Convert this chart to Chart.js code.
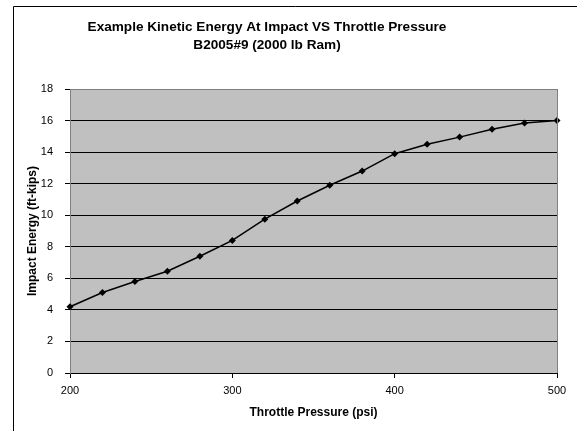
<!DOCTYPE html>
<html>
<head>
<meta charset="utf-8">
<title>Kinetic Energy vs Throttle Pressure</title>
<script src="https://cdn.jsdelivr.net/npm/chart.js@4/dist/chart.umd.min.js"></script>
<style>
    html, body { margin: 0; padding: 0; background: #ffffff; }
    #wrap { width: 577px; height: 431px; }
</style>
</head>
<body>
<div id="wrap"><canvas id="energy-chart" width="577" height="431"></canvas></div>
<script>
// Chart data
const titleLines = ['Example Kinetic Energy At Impact VS Throttle Pressure', 'B2005#9 (2000 lb Ram)'];
const throttlePressure = [200, 220, 240, 260, 280, 300, 320, 340, 360, 380, 400, 420, 440, 460, 480, 500];
const impactEnergy = [4.2, 5.1, 5.8, 6.45, 7.4, 8.4, 9.75, 10.9, 11.9, 12.8, 13.9, 14.5, 14.95, 15.45, 15.85, 16.0];
const xTitle = 'Throttle Pressure (psi)';
const yTitle = 'Impact Energy (ft-kips)';

const FONT = '"Liberation Sans", Arial, sans-serif';

/**
 * Frame, plot background and title (drawn behind the data)
 */
const backdropPlugin = {
    id: 'backdrop',
    beforeDraw(chart) {
        const { ctx, chartArea } = chart;
        ctx.save();

        // Outer frame (top and left edges visible)
        ctx.strokeStyle = '#000000';
        ctx.lineWidth = 1;
        ctx.beginPath();
        ctx.moveTo(13.5, 431);
        ctx.lineTo(13.5, 6.5);
        ctx.lineTo(577, 6.5);
        ctx.stroke();

        // Plot area fill
        ctx.fillStyle = '#C0C0C0';
        ctx.fillRect(chartArea.left, chartArea.top, chartArea.right - chartArea.left, chartArea.bottom - chartArea.top);

        // Titles
        ctx.fillStyle = '#000000';
        ctx.font = 'bold 13.6px ' + FONT;
        ctx.textAlign = 'center';
        ctx.textBaseline = 'middle';
        ctx.fillText(titleLines[0], 267, 27);
        ctx.fillText(titleLines[1], 267, 45);
        ctx.restore();
    },
    afterDatasetsDraw(chart) {
        // Gray plot border on the right side
        const { ctx, chartArea } = chart;
        ctx.save();
        ctx.strokeStyle = '#808080';
        ctx.lineWidth = 1;
        ctx.beginPath();
        ctx.moveTo(Math.round(chartArea.right) + 0.5, chartArea.top);
        ctx.lineTo(Math.round(chartArea.right) + 0.5, chartArea.bottom);
        ctx.stroke();
        ctx.restore();
    }
};

new Chart(document.getElementById('energy-chart'), {
    type: 'line',
    data: {
        datasets: [{
            label: 'Impact Energy',
            data: throttlePressure.map((p, i) => ({ x: p, y: impactEnergy[i] })),
            borderColor: '#000000',
            backgroundColor: '#000000',
            borderWidth: 1.5,
            pointStyle: 'rectRot',
            pointRadius: 3.5,
            pointBorderWidth: 0,
            pointBackgroundColor: '#000000',
            tension: 0,
            clip: false
        }]
    },
    options: {
        responsive: false,
        animation: false,
        devicePixelRatio: 1,
        layout: { padding: { top: 89, right: 20, left: 0, bottom: 0 } },
        plugins: {
            legend: { display: false },
            title: { display: false },
            tooltip: { enabled: false }
        },
        scales: {
            x: {
                type: 'linear',
                min: 200,
                max: 500,
                afterFit: scale => { scale.height = 58; },
                ticks: {
                    stepSize: 100,
                    color: '#000000',
                    padding: 6,
                    maxRotation: 0,
                    font: { family: FONT, size: 11 }
                },
                grid: {
                    drawOnChartArea: false,
                    drawTicks: true,
                    tickLength: 5,
                    color: '#000000'
                },
                border: { color: '#000000', width: 1 },
                title: {
                    display: true,
                    text: xTitle,
                    color: '#000000',
                    padding: { top: 0, bottom: 11 },
                    font: { family: FONT, size: 12, weight: 'bold' }
                }
            },
            y: {
                min: 0,
                max: 18,
                afterFit: scale => { scale.width = 70; },
                ticks: {
                    stepSize: 2,
                    color: '#000000',
                    padding: 12,
                    font: { family: FONT, size: 11 }
                },
                grid: {
                    tickLength: 5,
                    color: ctx => (ctx.tick && ctx.tick.value === 18 ? '#808080' : '#000000'),
                    tickColor: '#000000'
                },
                border: { color: '#808080', width: 1 },
                title: {
                    display: true,
                    text: yTitle,
                    color: '#000000',
                    padding: { top: 25, bottom: 0 },
                    font: { family: FONT, size: 12, weight: 'bold' }
                }
            }
        }
    },
    plugins: [backdropPlugin]
});
</script>
</body>
</html>
